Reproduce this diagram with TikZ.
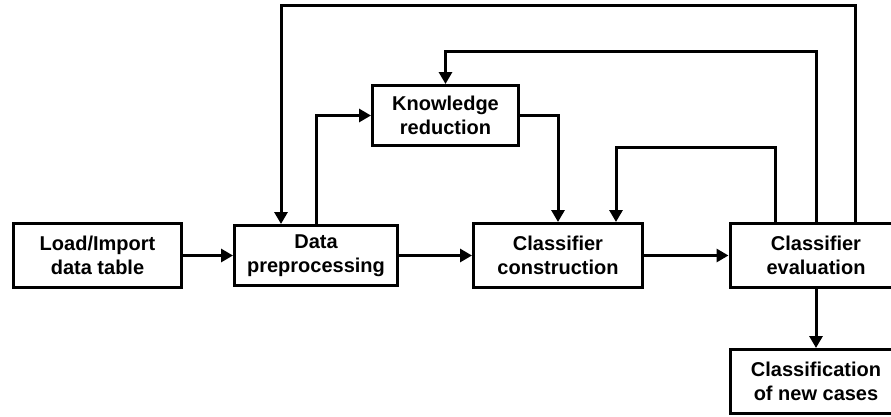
\documentclass[tikz,border=0pt]{standalone}
\usepackage{fontspec}
\setmainfont{Liberation Sans}
\usetikzlibrary{arrows.meta}

\begin{document}
\begin{tikzpicture}[x=1pt,y=-1pt,
  stagebox/.style={draw=black, line width=3pt, fill=white, inner sep=0pt,
    align=center, font=\fontsize{20pt}{24pt}\selectfont\bfseries},
  flow/.style={draw=black, line width=3pt, line join=miter,
    -{Triangle[length=12pt,width=13pt]}}]

  \useasboundingbox (0,0) rectangle (891,416);
  \clip (0,0) rectangle (891,416);

  % process stages
  \node[stagebox, minimum width=168pt, minimum height=64pt] (load) at (97.5,255.5) {Load/Import\\data table};
  \node[stagebox, minimum width=163pt, minimum height=60pt] (prep) at (316,255.5) {Data\\preprocessing};
  \node[stagebox, minimum width=146pt, minimum height=60pt] (know) at (445.5,115.5) {Knowledge\\reduction};
  \node[stagebox, minimum width=169pt, minimum height=64pt] (cons) at (558,255.5) {Classifier\\construction};
  \node[stagebox, minimum width=172pt, minimum height=64pt] (eval) at (816,255.5) {Classifier\\evaluation};
  \node[stagebox, minimum width=172pt, minimum height=64pt] (newc) at (816,381.5) {Classification\\of new cases};

  % attachment points on the box edges
  \coordinate (evA) at ([xshift=-41pt]eval.north);
  \coordinate (evC) at ([xshift=39pt]eval.north);
  \coordinate (consB) at ([xshift=58pt]cons.north);
  \coordinate (prepIn) at ([xshift=-35pt]prep.north);
  \coordinate (loopA) at (0,147);
  \coordinate (loopB) at (0,51);
  \coordinate (loopC) at (0,5);

  % main flow
  \draw[flow] (load) -- (prep);
  \draw[flow] (prep) -- (cons);
  \draw[flow] (cons) -- (eval);
  \draw[flow] (eval) -- (newc);

  % branch through knowledge reduction
  \draw[flow] (prep.north) |- (know.west);
  \draw[flow] (know.east) -| (cons.north);

  % feedback loops from the evaluation
  \draw[flow] (evA) -- (evA |- loopA) -| (consB);
  \draw[flow] (eval.north) -- (eval.north |- loopB) -| (know.north);
  \draw[flow] (evC) -- (evC |- loopC) -| (prepIn);
\end{tikzpicture}
\end{document}
